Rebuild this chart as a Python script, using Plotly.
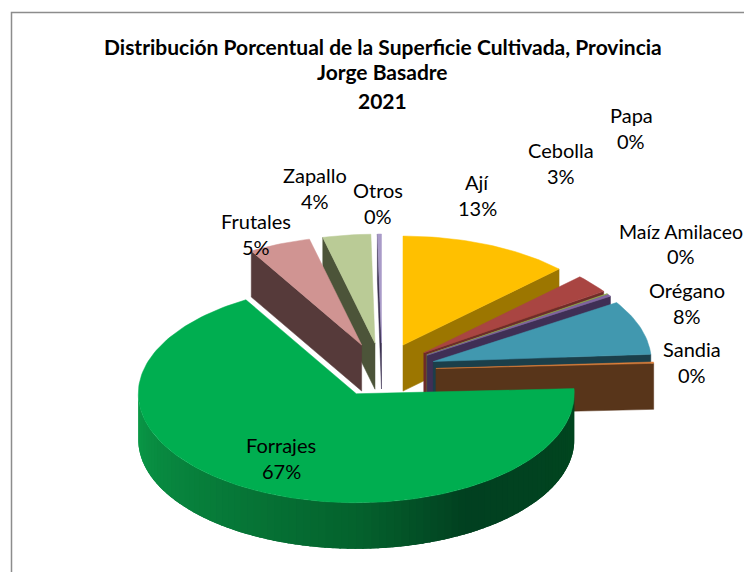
import math
import plotly.graph_objects as go

# ---- data (percent of cultivated area) ----
categories = ["Ají", "Cebolla", "Papa", "Maíz Amilaceo", "Orégano", "Sandia",
              "Forrajes", "Frutales", "Zapallo", "Otros"]
values = [12.7, 2.75, 0.15, 0.3, 8.05, 0.3, 67.3, 4.6, 3.55, 0.3]
title_lines = ["Distribución Porcentual de la Superficie Cultivada, Provincia",
               "Jorge Basadre", "2021"]

# ---- styles ----
top_colors = ["#FFC000", "#A94542", "#8FAA4E", "#8064A2", "#4198AF", "#E0803A",
              "#00AE50", "#D09492", "#BACB96", "#A99BC8"]
face_colors = ["#9C7600", "#6E2C2A", "#5F7335", "#3F2F55", "#1B3F4A", "#58351A",
               "#01461F", "#563A3A", "#4C5439", "#3A3050"]
rim_stops = [(90, "#01461F"), (150, "#014020"), (180, "#04622D"), (270, "#0A9A48")]
label_pos = {"Ají": (477, 182, 208), "Cebolla": (561, 150, 176), "Papa": (631, 115, 141),
             "Maíz Amilaceo": (681, 231, 256), "Orégano": (687, 290, 316),
             "Sandia": (692, 349, 375), "Forrajes": (281, 445, 471),
             "Frutales": (256, 221, 247), "Zapallo": (315, 175, 201), "Otros": (378, 190, 216)}
draw_order = ["Otros", "Zapallo", "Frutales", "Ají", "Cebolla", "Papa", "Maíz Amilaceo",
              "Orégano", "Sandia", "Forrajes"]
title_y = [46.5, 71.5, 100]
FONT = "Lato"
BASE_X, BASE_Y = 382, 370      # pie centre, px
RX, RY = 218, 109              # ellipse radii, px
DEPTH = 46                     # pie thickness, px
EXPLODE = 54                   # explosion distance, px


def hex_rgb(c):
    return tuple(int(c[i:i + 2], 16) for i in (1, 3, 5))


def rim_color(a):
    for (a0, c0), (a1, c1) in zip(rim_stops, rim_stops[1:]):
        if a0 <= a <= a1:
            t = (a - a0) / (a1 - a0)
            r = [round(p + (q - p) * t) for p, q in zip(hex_rgb(c0), hex_rgb(c1))]
            return f"rgb({r[0]},{r[1]},{r[2]})"
    return rim_stops[-1][1]


def poly(fig, xs, ys, color):
    fig.add_trace(go.Scatter(x=xs, y=ys, mode="lines", fill="toself", fillcolor=color,
                             line=dict(color=color, width=0.5), hoverinfo="skip",
                             showlegend=False))


def pt(cx, cy, a, dy=0):
    r = math.radians(a)
    return cx + RX * math.sin(r), cy - RY * math.cos(r) + dy


fig = go.Figure()

total = sum(values)
spans = {}
acc = 0.0
for name, v in zip(categories, values):
    spans[name] = (acc * 360 / total, (acc + v) * 360 / total)
    acc += v

for name in draw_order:
    i = categories.index(name)
    a0, a1 = spans[name]
    mid = math.radians((a0 + a1) / 2)
    cx = BASE_X + EXPLODE * math.sin(mid)
    cy = BASE_Y - EXPLODE * math.cos(mid) * RY / RX
    # visible cut faces
    for a, visible in ((a0, math.sin(math.radians(a0)) < 0), (a1, math.sin(math.radians(a1)) > 0)):
        if visible:
            px, py = pt(cx, cy, a)
            poly(fig, [cx, px, px, cx, cx], [cy, py, py + DEPTH, cy + DEPTH, cy], face_colors[i])
    # front rim: each band runs on under the next one so no seams show
    lo, hi = max(a0, 90), min(a1, 270)
    if hi > lo:
        n = max(2, int((hi - lo) / 2.0))
        for k in range(n):
            b0 = lo + (hi - lo) * k / n
            b_mid = lo + (hi - lo) * (k + 0.5) / n
            steps = [min(hi, b0 + j * 1.5) for j in range(4)]
            upper = [pt(cx, cy, b) for b in steps]
            xs = [p[0] for p in upper] + [p[0] for p in reversed(upper)]
            ys = [p[1] for p in upper] + [p[1] + DEPTH for p in reversed(upper)]
            col = rim_color(b_mid)
            fig.add_trace(go.Scatter(x=xs + xs[:1], y=ys + ys[:1], mode="none", fill="toself",
                                     fillcolor=col, hoverinfo="skip", showlegend=False))
    # top surface
    n = max(3, int((a1 - a0) / 1.5))
    arc = [pt(cx, cy, a0 + (a1 - a0) * k / n) for k in range(n + 1)]
    poly(fig, [cx] + [p[0] for p in arc] + [cx], [cy] + [p[1] for p in arc] + [cy], top_colors[i])

annotations = []
for line, y in zip(title_lines, title_y):
    annotations.append(dict(x=382.5, y=y, xref="x", yref="y", text=f"<b>{line}</b>", showarrow=False,
                            font=dict(family=FONT, size=21, color="black")))
for name, v in zip(categories, values):
    x, y1, y2 = label_pos[name]
    size = 19.5 if name == "Maíz Amilaceo" else 20
    annotations.append(dict(x=x, y=y1, xref="x", yref="y", text=name, showarrow=False,
                            font=dict(family=FONT, size=size, color="black")))
    annotations.append(dict(x=x, y=y2, xref="x", yref="y", text=f"{round(v)}%", showarrow=False,
                            font=dict(family=FONT, size=20, color="black")))

fig.update_layout(
    width=744, height=572, autosize=False,
    margin=dict(l=0, r=0, t=0, b=0),
    paper_bgcolor="white", plot_bgcolor="white",
    xaxis=dict(range=[0, 744], visible=False, fixedrange=True),
    yaxis=dict(range=[572, 0], visible=False, fixedrange=True),
    annotations=annotations,
    shapes=[dict(type="path", path="M 11.5 572 L 11.5 12.5 L 744 12.5", xref="x", yref="y",
                 line=dict(color="#8C8C8C", width=1.5))],
)
fig.write_html("out.html", config={"displayModeBar": False},
               post_script="document.body.style.margin='0';document.body.style.overflow='hidden';")
